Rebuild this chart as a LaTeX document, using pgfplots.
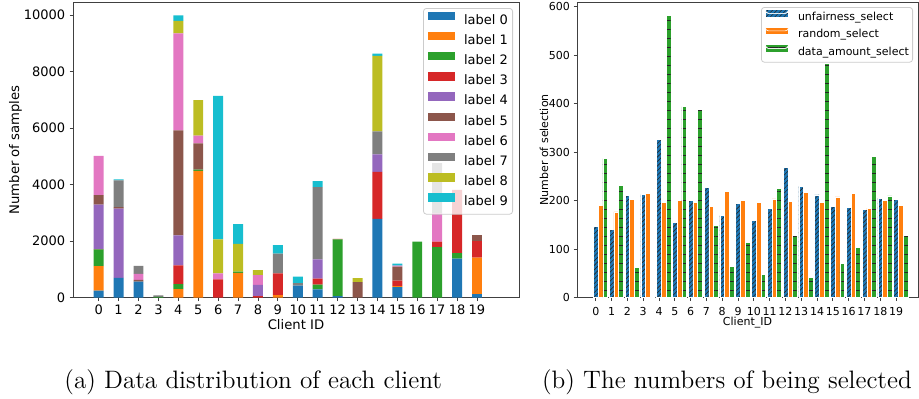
\documentclass[border=0pt]{standalone}
\usepackage{pgfplots}
\pgfplotsset{compat=1.18}
\usepackage{pgfplotstable}
\usepackage{fontspec}
\newfontfamily\dejavu{DejaVu Sans}
\usetikzlibrary{patterns.meta}
\definecolor{c0}{HTML}{1F77B4}
\definecolor{c1}{HTML}{FF7F0E}
\definecolor{c2}{HTML}{2CA02C}
\definecolor{c3}{HTML}{D62728}
\definecolor{c4}{HTML}{9467BD}
\definecolor{c5}{HTML}{8C564B}
\definecolor{c6}{HTML}{E377C2}
\definecolor{c7}{HTML}{7F7F7F}
\definecolor{c8}{HTML}{BCBD22}
\definecolor{c9}{HTML}{17BECF}

\pgfplotstableread{
id l0 l1 l2 l3 l4 l5 l6 l7 l8 l9
0 250 870 590 10 1570 340 1390 0 0 0
1 700 0 0 0 2450 50 0 950 0 40
2 570 0 0 0 0 60 210 290 0 0
3 0 0 25 0 0 0 0 55 0 0
4 0 306 177 660 1060 3720 3430 0 436 200
5 0 4490 45 0 0 920 280 0 1250 0
6 0 0 0 650 0 0 210 0 1200 5080
7 0 880 40 0 0 0 0 0 980 700
8 0 0 0 60 390 0 350 0 180 0
9 0 95 0 765 0 0 0 695 0 306
10 424 0 0 0 0 0 0 94 0 224
11 294 0 165 212 684 0 0 2556 0 212
12 60 0 2000 25 0 0 0 0 0 0
13 0 0 0 0 0 554 0 0 140 0
14 2790 0 0 1660 620 0 0 810 2670 80
15 377 35 0 190 0 495 35 0 0 70
16 0 0 1980 0 0 0 0 0 0 0
17 0 0 1790 190 0 0 1010 1770 0 0
18 1380 0 200 2230 0 0 0 0 0 0
19 130 1284 0 590 0 212 0 0 0 0
}\distr

\pgfplotstableread{
id u r d
0 147 190 287
1 141 177 232
2 211 203 63
3 213 216 0
4 326 196 582
5 155 201 394
6 201 197 388
7 227 189 149
8 170 220 64
9 194 201 114
10 159 196 48
11 184 204 225
12 269 199 129
13 230 218 42
14 212 196 484
15 189 208 70
16 186 216 103
17 182 185 292
18 205 201 210
19 202 190 129
}\sel

\pgfplotsset{
  common/.style={
    scale only axis,
    anchor=south west,
    ymin=0,
    tick pos=left,
    tick align=outside,
    major tick length=1.75pt,
    tick style={black!75, line width=0.4pt},
    axis line style={black!75, line width=0.5pt},
    scaled y ticks=false,
    /pgf/number format/1000 sep={},
    /pgf/number format/assume math mode=true,
    legend cell align=left,
  },
  lb/.style={draw=none, fill=#1},
  rb/.style={ybar, bar width=0.3, bar shift=0pt, draw=white, line width=0.3pt, fill=#1},
}

\begin{document}
\begin{tikzpicture}
\useasboundingbox (0,0) rectangle (459.5pt,199pt);

\begin{axis}[common,
  at={(36.5pt,50.15pt)},
  width=223pt, height=147.85pt,
  xmin=-1.29, xmax=21.11, ymax=10460,
  ybar stacked, bar width=0.5,
  xtick={0,...,19}, ytick={0,2000,...,10000},
  tick label style={font=\dejavu\fontsize{6.5}{7}\selectfont},
  xticklabel style={yshift=1.5pt},
  yticklabel style={xshift=1.4pt},
  label style={font=\dejavu\fontsize{6.6}{7}\selectfont},
  xlabel={Client ID}, ylabel={Number of samples},
  xlabel style={at={(axis description cs:0.5,0)}, anchor=base, yshift=-15.65pt},
  ylabel style={at={(axis description cs:-0.1289,0.5)}, anchor=center},
  every axis plot post/.append style={
    legend image code/.code={\path[##1, draw=none, sharp corners, fill opacity=1] (0pt,0.2pt) rectangle (13.3pt,4.4pt);
      \pgfresetboundingbox\useasboundingbox (0pt,2.3pt) rectangle (13.3pt,2.3pt);}},
  legend style={at={(1,1)}, anchor=north east, xshift=-3pt, yshift=-3pt,
    draw=black!20, rounded corners=1.5pt, fill=white, fill opacity=0.8, text opacity=1,
    font=\dejavu\fontsize{6.5}{7}\selectfont,
    inner xsep=2.35pt, inner ysep=2.9pt, column sep=4.65pt, row sep=3.9pt,
    nodes={inner sep=0pt, text height=4.9pt, text depth=1.3pt}},
]
\addplot[lb=c0] table[x=id,y=l0]{\distr};
\addplot[lb=c1] table[x=id,y=l1]{\distr};
\addplot[lb=c2] table[x=id,y=l2]{\distr};
\addplot[lb=c3] table[x=id,y=l3]{\distr};
\addplot[lb=c4] table[x=id,y=l4]{\distr};
\addplot[lb=c5] table[x=id,y=l5]{\distr};
\addplot[lb=c6] table[x=id,y=l6]{\distr};
\addplot[lb=c7] table[x=id,y=l7]{\distr};
\addplot[lb=c8] table[x=id,y=l8]{\distr};
\addplot[lb=c9] table[x=id,y=l9]{\distr};
\legend{label 0,label 1,label 2,label 3,label 4,label 5,label 6,label 7,label 8,label 9}
\end{axis}

\begin{axis}[common,
  at={(288.5pt,50.15pt)},
  width=170.5pt, height=147.85pt,
  xmin=-1.19, xmax=20.39, ymax=610,
  xtick={0,...,19}, ytick={0,100,...,600},
  tick label style={font=\dejavu\fontsize{5.5}{6}\selectfont},
  xticklabel style={yshift=0.5pt},
  yticklabel style={xshift=1.75pt},
  label style={font=\dejavu\fontsize{5.5}{6}\selectfont},
  xlabel={Client\_ID}, ylabel={Number of selection},
  xlabel style={at={(axis description cs:0.5,0)}, anchor=base, yshift=-13.65pt},
  ylabel style={at={(axis description cs:-0.0968,0.5)}, anchor=center},
  every axis plot post/.append style={
    legend image code/.code={\path[##1, sharp corners, fill opacity=1, draw opacity=1] (0pt,0.2pt) rectangle (11.5pt,3.85pt);
      \pgfresetboundingbox\useasboundingbox (0pt,2pt) rectangle (11.5pt,2pt);}},
  legend style={at={(1,1)}, anchor=north east, xshift=-2.5pt, yshift=-2.5pt,
    draw=black!20, rounded corners=1.5pt, fill=white, fill opacity=0.8, text opacity=1,
    font=\dejavu\fontsize{5.5}{6}\selectfont,
    inner xsep=1.85pt, inner ysep=2.3pt, column sep=4.65pt, row sep=3.45pt,
    nodes={inner sep=0pt, text height=4.2pt, text depth=1.1pt}},
]
\addplot[rb=c0, postaction={pattern={Lines[angle=45,distance=1.6pt,line width=0.3pt]}, pattern color=black!85}]
  table[x expr=\thisrow{id}, y=u]{\sel};
\addplot[rb=c1] table[x expr=\thisrow{id}+0.3, y=r]{\sel};
\addplot[rb=c2, postaction={pattern={Lines[angle=0,distance=4.5pt,line width=0.35pt]}, pattern color=black!85}]
  table[x expr=\thisrow{id}+0.6, y=d]{\sel};
\legend{unfairness\_select, random\_select, data\_amount\_select}
\end{axis}

\node[anchor=base west, font=\fontsize{12.6}{14}\selectfont, inner sep=0pt] at (32pt,5pt) {(a) Data distribution of each client};
\node[anchor=base west, font=\fontsize{12.6}{14}\selectfont, inner sep=0pt] at (270.85pt,5pt) {(b) The numbers of being selected};
\end{tikzpicture}
\end{document}
